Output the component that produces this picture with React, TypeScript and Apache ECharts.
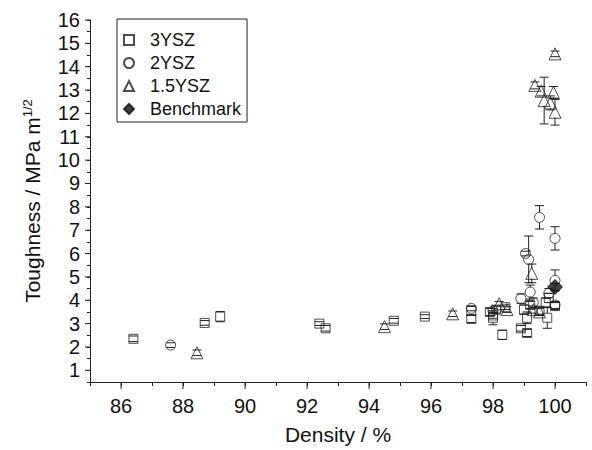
import React, { useEffect, useRef } from "react";
import * as echarts from "echarts";

// ---------- data ----------
const seriesNames = ["3YSZ", "2YSZ", "1.5YSZ", "Benchmark"];
const xTickValues = [86, 88, 90, 92, 94, 96, 98, 100];
const yTickValues = [1, 2, 3, 4, 5, 6, 7, 8, 9, 10, 11, 12, 13, 14, 15, 16];

// 3YSZ (squares)
const ysz3X = [86.4, 88.7, 89.2, 92.4, 92.6, 94.8, 95.8, 97.3, 97.3, 97.9, 98.0, 98.1, 98.0, 98.3, 98.4, 98.9, 99.0, 99.1, 99.1, 99.2, 99.5, 99.7, 99.75, 99.8, 100.0];
const ysz3Y = [2.35, 3.03, 3.3, 3.0, 2.8, 3.12, 3.3, 3.55, 3.2, 3.5, 3.35, 3.6, 3.25, 2.52, 3.7, 2.8, 3.6, 2.6, 3.25, 3.8, 3.55, 3.9, 3.25, 4.1, 3.75];
const ysz3Err = [0.12, 0.1, 0.22, 0.08, 0.12, 0.1, 0.08, 0.2, 0.15, 0.15, 0.12, 0.15, 0.3, 0.2, 0.1, 0.12, 0.2, 0.15, 0.25, 0.15, 0.15, 0.2, 0.45, 0.2, 0.15];

// 2YSZ (circles)
const ysz2X = [87.6, 97.3, 98.0, 98.9, 99.05, 99.15, 99.2, 99.5, 99.3, 99.8, 100.0, 100.0, 100.0];
const ysz2Y = [2.08, 3.65, 3.55, 4.07, 6.0, 5.75, 4.35, 7.55, 3.9, 4.3, 6.65, 4.85, 3.8];
const ysz2Err = [0.1, 0.1, 0.1, 0.2, 0.1, 1.0, 0.3, 0.5, 0.2, 0.2, 0.5, 0.45, 0.15];

// 1.5YSZ (triangles)
const ysz15X = [88.45, 94.5, 96.7, 98.2, 98.45, 99.25, 99.35, 99.55, 99.95, 99.65, 99.85, 100.0, 100.0, 99.5, 99.3];
const ysz15Y = [1.75, 2.87, 3.42, 3.85, 3.6, 5.15, 13.2, 12.95, 12.9, 12.55, 12.45, 12.05, 14.55, 3.5, 3.6];
const ysz15Err = [0.12, 0.12, 0.12, 0.1, 0.12, 0.4, 0.15, 0.2, 0.25, 1.0, 0.3, 0.55, 0.12, 0.15, 0.15];

// Benchmark (filled diamond)
const benchX = [100.0];
const benchY = [4.57];
const benchErr = [0.15];

const X_MIN = 85;
const X_MAX = 101;
const Y_MIN = 0.5;
const Y_MAX = 16;

const FONT = "'Liberation Sans', Arial, Helvetica, sans-serif";
const INK = "#222";

function pts(xs: number[], ys: number[]) {
  return xs.map((x, i) => [x, ys[i]]);
}

function errorSeries(xs: number[], ys: number[], errs: number[], gap: number) {
  return {
    type: "custom",
    name: "err",
    silent: true,
    z: 1,
    encode: { x: 0, y: [1, 2, 3] },
    data: xs.map((x, i) => [x, ys[i], ys[i] - errs[i], ys[i] + errs[i]]),
    renderItem: (params: any, api: any) => {
      const c = api.coord([api.value(0), api.value(1)]);
      const lo = api.coord([api.value(0), api.value(2)]);
      const hi = api.coord([api.value(0), api.value(3)]);
      const w = 4.5;
      const style = { stroke: INK, lineWidth: 1 };
      const children: any[] = [];
      if (c[1] - hi[1] > gap) {
        children.push({ type: "line", shape: { x1: c[0], y1: c[1] - gap, x2: hi[0], y2: hi[1] }, style });
      }
      if (lo[1] - c[1] > gap) {
        children.push({ type: "line", shape: { x1: c[0], y1: c[1] + gap, x2: lo[0], y2: lo[1] }, style });
      }
      children.push({ type: "line", shape: { x1: hi[0] - w, y1: hi[1], x2: hi[0] + w, y2: hi[1] }, style });
      children.push({ type: "line", shape: { x1: lo[0] - w, y1: lo[1], x2: lo[0] + w, y2: lo[1] }, style });
      return { type: "group", children };
    },
  };
}

// long (major) ticks drawn through the axis scales
function majorTickSeries(dim: "x" | "y", values: number[], len: number) {
  return {
    type: "custom",
    name: "ticks-" + dim,
    silent: true,
    clip: false,
    z: 5,
    encode: { x: 0, y: 1 },
    data: values.map((v) => (dim === "x" ? [v, Y_MIN] : [X_MIN, v])),
    renderItem: (params: any, api: any) => {
      const p = api.coord([api.value(0), api.value(1)]);
      const style = { stroke: INK, lineWidth: 1 };
      if (dim === "x") {
        return { type: "line", shape: { x1: p[0], y1: p[1], x2: p[0], y2: p[1] + len }, style };
      }
      return { type: "line", shape: { x1: p[0], y1: p[1], x2: p[0] - len, y2: p[1] }, style };
    },
  };
}

export default function App() {
  const ref = useRef<HTMLDivElement>(null);

  useEffect(() => {
    document.body.style.margin = "0";
    if (!ref.current) return;
    const chart = echarts.init(ref.current, undefined, { renderer: "svg" });

    const hollow = { color: "rgba(255,255,255,0)", borderColor: INK, borderWidth: 1 };

    const option: any = {
      animation: false,
      backgroundColor: "#fff",
      textStyle: { fontFamily: FONT },
      grid: { left: 90, right: 6, top: 20, bottom: 63, containLabel: false },
      legend: {
        data: seriesNames,
        orient: "vertical",
        left: 117,
        top: 19,
        padding: [12, 6, 4, 6],
        itemGap: 5,
        itemWidth: 10,
        itemHeight: 10,
        borderColor: INK,
        borderWidth: 1,
        backgroundColor: "#fff",
        textStyle: { fontFamily: FONT, fontSize: 18, color: "#111", padding: [0, 0, 0, 11] },
      },
      xAxis: {
        type: "value",
        min: X_MIN,
        max: X_MAX,
        interval: 1,
        name: "Density / %",
        nameLocation: "middle",
        nameGap: 42,
        nameTextStyle: { fontFamily: FONT, fontSize: 21, color: "#111" },
        axisLine: { show: true, onZero: false, lineStyle: { color: INK, width: 1 } },
        axisTick: { show: true, length: 4, lineStyle: { color: INK } },
        axisLabel: {
          customValues: xTickValues,
          fontFamily: FONT,
          fontSize: 20,
          color: "#111",
          margin: 14,
        },
        splitLine: { show: false },
      },
      yAxis: {
        type: "value",
        min: Y_MIN,
        max: Y_MAX,
        interval: 0.5,
        name: "Toughness / MPa m{sup|1/2}",
        nameLocation: "middle",
        nameGap: 46,
        nameTextStyle: {
          fontFamily: FONT,
          fontSize: 21,
          color: "#111",
          rich: { sup: { fontFamily: FONT, fontSize: 13, color: "#111", verticalAlign: "top", padding: [0, 0, 10, 0] } },
        },
        axisLine: { show: true, onZero: false, lineStyle: { color: INK, width: 1 } },
        axisTick: { show: true, length: 3, lineStyle: { color: INK } },
        axisLabel: { customValues: yTickValues, fontFamily: FONT, fontSize: 20, color: "#111", margin: 10 },
        splitLine: { show: false },
      },
      series: [
        majorTickSeries("x", xTickValues, 7),
        majorTickSeries("y", yTickValues, 5),
        errorSeries(ysz3X, ysz3Y, ysz3Err, 4.5),
        errorSeries(ysz2X, ysz2Y, ysz2Err, 5),
        errorSeries(ysz15X, ysz15Y, ysz15Err, 5),
        errorSeries(benchX, benchY, benchErr, 7),
        {
          type: "scatter",
          name: seriesNames[0],
          symbol: "rect",
          symbolSize: 9,
          itemStyle: hollow,
          data: pts(ysz3X, ysz3Y),
          z: 2,
        },
        {
          type: "scatter",
          name: seriesNames[1],
          symbol: "circle",
          symbolSize: 10,
          itemStyle: hollow,
          data: pts(ysz2X, ysz2Y),
          z: 2,
        },
        {
          type: "scatter",
          name: seriesNames[2],
          symbol: "triangle",
          symbolSize: 12,
          itemStyle: hollow,
          data: pts(ysz15X, ysz15Y),
          z: 2,
        },
        {
          type: "scatter",
          name: seriesNames[3],
          symbol: "diamond",
          symbolSize: 15,
          itemStyle: { color: "#111", borderColor: "#111", borderWidth: 1 },
          data: pts(benchX, benchY),
          z: 3,
        },
      ],
    };

    chart.setOption(option);
    return () => chart.dispose();
  }, []);

  return <div ref={ref} style={{ width: 592, height: 450 }} />;
}
